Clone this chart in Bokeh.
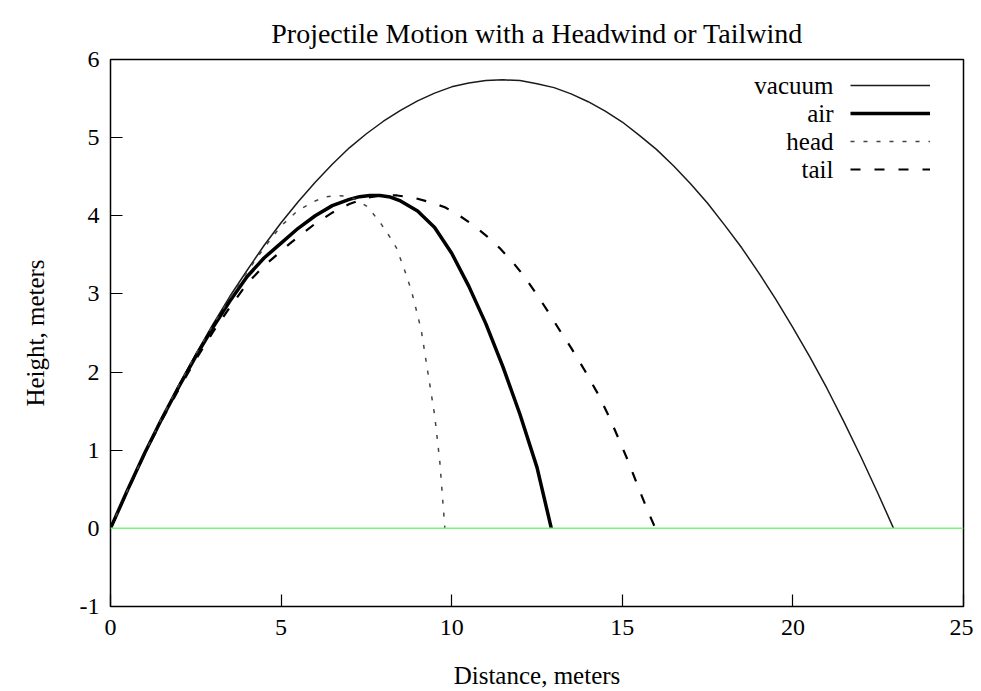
from bokeh.plotting import figure
from bokeh.models import FixedTicker, Span, Legend, LegendItem, Range1d, Label
from bokeh.embed import file_html
from bokeh.resources import INLINE

# ---- data ----
vacuum_x = [0, 0.5, 1, 1.5, 2, 2.5, 3, 3.5, 4, 4.5, 5, 5.5, 6, 6.5, 7, 7.5, 8, 8.5, 9, 9.5, 10, 10.5, 11, 11.5,
            12, 12.5, 13, 13.5, 14, 14.5, 15, 15.5, 16, 16.5, 17, 17.5, 18, 18.5, 19, 19.5, 20, 20.5, 21, 21.5,
            22, 22.5, 22.95]
vacuum_y = [0, 0.49, 0.96, 1.40, 1.83, 2.23, 2.61, 2.97, 3.30, 3.62, 3.91, 4.18, 4.43, 4.66, 4.87, 5.05, 5.21,
            5.35, 5.47, 5.57, 5.65, 5.70, 5.73, 5.74, 5.73, 5.69, 5.64, 5.56, 5.46, 5.34, 5.20, 5.03, 4.85, 4.64,
            4.41, 4.16, 3.88, 3.59, 3.27, 2.93, 2.57, 2.19, 1.79, 1.36, 0.91, 0.44, 0]

air_x = [0, 0.5, 1, 1.5, 2, 2.5, 3, 3.5, 4, 4.5, 5, 5.5, 6, 6.5, 7, 7.3, 7.6, 7.9, 8.2, 8.5, 9, 9.5, 10, 10.5,
         11, 11.5, 12, 12.5, 12.92]
air_y = [0, 0.49, 0.96, 1.40, 1.81, 2.20, 2.57, 2.91, 3.22, 3.46, 3.65, 3.84, 4.00, 4.13, 4.21, 4.245, 4.26,
         4.26, 4.24, 4.19, 4.06, 3.85, 3.52, 3.10, 2.62, 2.07, 1.46, 0.78, 0]

head_x = [0, 0.5, 1, 1.5, 2, 2.5, 3, 3.5, 4, 4.5, 5, 5.5, 6, 6.3, 6.6, 6.9, 7.2, 7.55, 7.94, 8.2, 8.38, 8.63,
          8.82, 9.0, 9.11, 9.3, 9.5, 9.65, 9.8]
head_y = [0, 0.49, 0.96, 1.41, 1.83, 2.23, 2.60, 2.95, 3.28, 3.59, 3.87, 4.07, 4.19, 4.24, 4.26, 4.25, 4.21, 4.11,
          3.89, 3.72, 3.59, 3.29, 3.04, 2.73, 2.53, 2.00, 1.45, 0.86, 0]

tail_x = [0, 0.5, 1, 1.5, 2, 2.5, 3, 3.5, 4, 4.5, 4.9, 5.3, 6, 6.5, 7, 7.5, 7.9, 8.4, 8.9, 9.4, 9.8, 10.2, 10.6,
          11.0, 11.4, 11.8, 12.1, 12.5, 12.8, 13.2, 13.5, 13.9, 14.3, 14.6, 14.9, 15.2, 15.5, 15.75, 15.97]
tail_y = [0, 0.48, 0.95, 1.38, 1.78, 2.16, 2.51, 2.83, 3.13, 3.36, 3.51, 3.66, 3.90, 4.04, 4.15, 4.23, 4.26, 4.26,
          4.23, 4.17, 4.11, 4.01, 3.89, 3.75, 3.59, 3.40, 3.24, 2.99, 2.79, 2.51, 2.31, 2.02, 1.71, 1.44, 1.14,
          0.83, 0.49, 0.22, 0]

series_names = ["vacuum", "air", "head", "tail"]
title_text = "Projectile Motion with a Headwind or Tailwind"

x_ticks = [0, 5, 10, 15, 20, 25]
y_ticks = [-1, 0, 1, 2, 3, 4, 5, 6]
y_tick_labels = ["-1", "0", "1", "2", "3", "4", "5", "6"]

FONT = "'Liberation Serif', serif"

p = figure(width=973, height=691, output_backend="svg", toolbar_location=None,
           x_range=Range1d(0, 25), y_range=Range1d(-1, 6),
           min_border_left=110, min_border_right=10, min_border_top=59, min_border_bottom=85)

p.title.text = title_text
p.title.align = "center"
p.title.text_font = FONT
p.title.text_font_size = "28px"
p.title.text_font_style = "normal"
p.title.text_color = "black"
p.title.offset = 0
p.title.standoff = 22

p.grid.visible = False
p.outline_line_color = "black"
p.outline_line_width = 1.5
p.outline_line_alpha = 1.0

for ax, ticks, lab in ((p.xaxis[0], x_ticks, "Distance, meters"), (p.yaxis[0], y_ticks, "Height, meters")):
    ax.ticker = FixedTicker(ticks=ticks)
    ax.axis_line_color = None
    ax.major_tick_in = 12
    ax.major_tick_out = 0
    ax.major_tick_line_color = "black"
    ax.major_tick_line_width = 1.2
    ax.minor_tick_line_color = None
    ax.major_label_text_font = FONT
    ax.major_label_text_font_size = "24px"
    ax.major_label_text_color = "black"
    ax.axis_label = lab
    ax.axis_label_text_font = FONT
    ax.axis_label_text_font_size = "25px"
    ax.axis_label_text_font_style = "normal"
    ax.axis_label_text_color = "black"

p.yaxis[0].major_label_overrides = {t: s for t, s in zip(y_ticks, y_tick_labels)}
p.xaxis[0].major_label_standoff = 13
p.xaxis[0].axis_label_standoff = 24
p.yaxis[0].major_label_standoff = 11
p.yaxis[0].axis_label_standoff = 28

p.add_layout(Span(location=0, dimension="width", line_color="#7cf27c", line_width=1.5))

r_vac = p.line(vacuum_x, vacuum_y, line_color="#1a1a1a", line_width=1.5)
r_air = p.line(air_x, air_y, line_color="black", line_width=3.5)
r_head = p.line(head_x, head_y, line_color="#444444", line_width=1.5, line_dash="4 9")
r_tail = p.line(tail_x, tail_y, line_color="black", line_width=2.2, line_dash="10 14")
renderers = [r_vac, r_air, r_head, r_tail]

# gnuplot-style key: samples on the right, names right-aligned to their left
ROW = 28
legend = Legend(items=[LegendItem(label="", renderers=[r]) for r in renderers], location=(740, 423))
legend.border_line_color = None
legend.background_fill_alpha = 0
legend.label_text_font_size = "8px"
legend.glyph_width = 80
legend.glyph_height = ROW
legend.label_height = ROW
legend.label_width = 0
legend.label_standoff = 0
legend.spacing = 0
legend.padding = 0
legend.margin = 0
p.add_layout(legend)

for i, name in enumerate(series_names):
    p.add_layout(Label(x=723, y=521 - i * ROW, x_units="screen", y_units="screen", text=name,
                       text_align="right", text_baseline="middle", text_font=FONT,
                       text_font_size="25px", text_color="black"))

open("out.html", "w").write(file_html(p, INLINE))
